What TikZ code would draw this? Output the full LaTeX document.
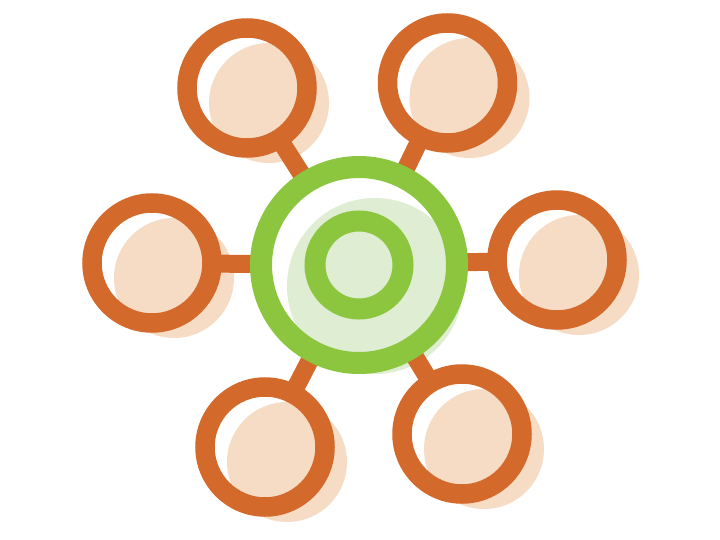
\documentclass[tikz,border=0pt]{standalone}
\definecolor{orng}{HTML}{D3692A}
\definecolor{peach}{HTML}{F6DBC5}
\definecolor{grn}{HTML}{8CC63F}
\definecolor{lgrn}{HTML}{DFEED3}
\begin{document}
\begin{tikzpicture}[x=1pt,y=-1pt,
  ringnode/.style={circle,draw=orng,line width=19.5pt,minimum size=120pt,inner sep=0pt},
  hubnode/.style={circle,draw=grn,line width=22pt,minimum size=196pt,inner sep=0pt},
  corenode/.style={circle,draw=grn,fill=lgrn,line width=21pt,minimum size=88pt,inner sep=0pt},
  shade/.style={fill=peach},
  link/.style={draw=orng,line width=18pt}]
\useasboundingbox[fill=white] (0,0) rectangle (720,540);
% shadows
\foreach \x/\y in {247/88,447.5/83,152/263,557/260,265/447,462/434}{
  \fill[shade] (\x+22,\y+15) circle[radius=60];
}
\fill[lgrn] (375,286) circle[radius=88];
% nodes (coordinates for connectors)
\coordinate (gc) at (359,265);
\coordinate (tl) at (247,88);
\coordinate (tr) at (447.5,83);
\coordinate (l) at (152,263);
\coordinate (r) at (557,260);
\coordinate (bl) at (265,447);
\coordinate (br) at (462,434);
\path (gc) node[circle,minimum size=196pt,inner sep=0pt] (hubb) {};
\foreach \n in {tl,tr,l,r,bl,br}{
  \path (\n) node[circle,minimum size=120pt,inner sep=0pt] (\n b) {};
  \draw[link] (\n b) -- (hubb);
}
% rings
\foreach \n in {tl,tr,l,r,bl,br}{
  \node[ringnode] (\n ring) at (\n) {};
}
\node[hubnode] (hub) at (gc) {};
\node[corenode] (core) at (gc) {};
\end{tikzpicture}
\end{document}
